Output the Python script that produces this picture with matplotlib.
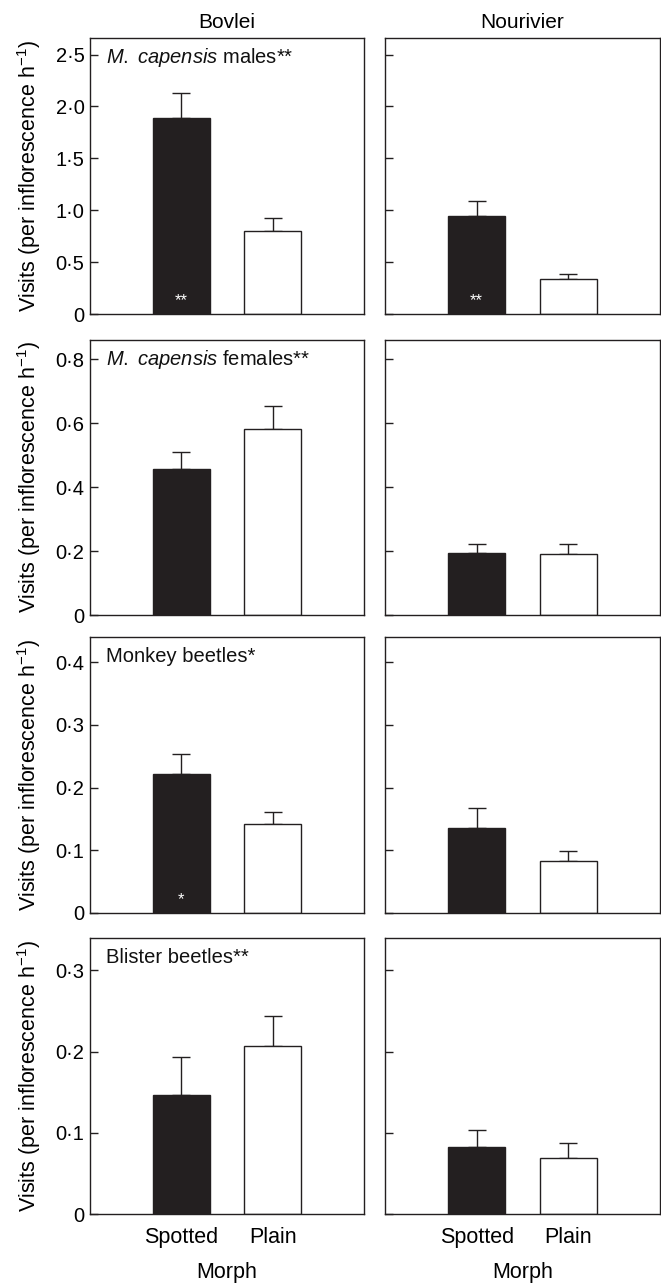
import numpy as np
import matplotlib.pyplot as plt

plt.rcParams['font.family'] = ['Liberation Sans', 'DejaVu Sans']
plt.rcParams['mathtext.fontset'] = 'custom'
plt.rcParams['mathtext.rm'] = 'Liberation Sans'
plt.rcParams['mathtext.it'] = 'Liberation Sans:italic'

#### Daten ####
sites = ['Bovlei', 'Nourivier']
morphs = ['Spotted', 'Plain']

# Mittelwerte und SE [Spotted, Plain] je Standort
males_mean = {'Bovlei': [1.89, 0.80], 'Nourivier': [0.945, 0.337]}
males_se = {'Bovlei': [0.24, 0.125], 'Nourivier': [0.145, 0.048]}
females_mean = {'Bovlei': [0.457, 0.582], 'Nourivier': [0.194, 0.192]}
females_se = {'Bovlei': [0.052, 0.071], 'Nourivier': [0.029, 0.031]}
monkey_mean = {'Bovlei': [0.221, 0.1415], 'Nourivier': [0.136, 0.0824]}
monkey_se = {'Bovlei': [0.033, 0.019], 'Nourivier': [0.032, 0.017]}
blister_mean = {'Bovlei': [0.146, 0.2075], 'Nourivier': [0.082, 0.069]}
blister_se = {'Bovlei': [0.048, 0.036], 'Nourivier': [0.022, 0.018]}

means = [males_mean, females_mean, monkey_mean, blister_mean]
ses = [males_se, females_se, monkey_se, blister_se]

titles = [r'$\it{M.}$ $\it{capensis}$ males**', r'$\it{M.}$ $\it{capensis}$ females**',
          'Monkey beetles*', 'Blister beetles**']
yticks = [[0, 0.5, 1.0, 1.5, 2.0, 2.5], [0, 0.2, 0.4, 0.6, 0.8],
          [0, 0.1, 0.2, 0.3, 0.4], [0, 0.1, 0.2, 0.3]]
ytop = [2.66, 0.86, 0.44, 0.34]
# Sterne im schwarzen Balken
inner_stars = [{'Bovlei': '**', 'Nourivier': '**'}, {}, {'Bovlei': '*'}, {}]

#### Layout (Pixel) ####
W, H = 661, 1284
rows_px = [(38, 314), (340, 615), (637, 913), (938, 1214)]
cols_px = [(90, 364), (385, 660)]

fig = plt.figure(figsize=(W / 100, H / 100), dpi=100)

dark = '#231f20'
x = np.array([1, 2])

for r in range(4):
    for c in range(2):
        site = sites[c]
        t, b = rows_px[r]
        l, rr = cols_px[c]
        ax = fig.add_axes([l / W, 1 - b / H, (rr - l) / W, (b - t) / H])
        m = means[r][site]
        s = ses[r][site]
        ax.bar(x, m, width=0.625, color=[dark, 'white'], edgecolor=dark, linewidth=1.0, zorder=2)
        ax.errorbar(x, m, yerr=[[0, 0], s], fmt='none', ecolor=dark, elinewidth=1.0,
                    capsize=6.5, capthick=1.0, zorder=1)
        ax.set_xlim(0, 3)
        ax.set_ylim(0, ytop[r])
        ax.set_yticks(yticks[r])
        ax.tick_params(axis='y', direction='in', length=6, width=1.0, color=dark, labelsize=14.5, pad=4)
        for sp in ax.spines.values():
            sp.set_linewidth(1.0)
            sp.set_color(dark)
        if c == 0:
            ax.set_yticklabels(['0' if v == 0 else f'{v:.1f}'.replace('.', '·') for v in yticks[r]])
            ax.set_ylabel(r'Visits (per inflorescence h$^{-1}$)', fontsize=15.5, labelpad=9)
            ax.text(0.06, 0.93, titles[r], transform=ax.transAxes, fontsize=14.5,
                    ha='left', va='center', color='#111111')
        else:
            ax.set_yticklabels([])
        if r == 3:
            ax.set_xticks(x)
            ax.set_xticklabels(morphs, fontsize=15.5, va='baseline')
            ax.tick_params(axis='x', length=0, pad=21)
            ax.set_xlabel('Morph', fontsize=15.5, labelpad=10)
        else:
            ax.set_xticks([])
        if r == 0:
            ax.set_title(site, fontsize=15, pad=7)
        if site in inner_stars[r]:
            ax.text(1, ytop[r] * 0.05, inner_stars[r][site], color='white', fontsize=12,
                    ha='center', va='center')

fig.savefig('out.png', dpi=100)
